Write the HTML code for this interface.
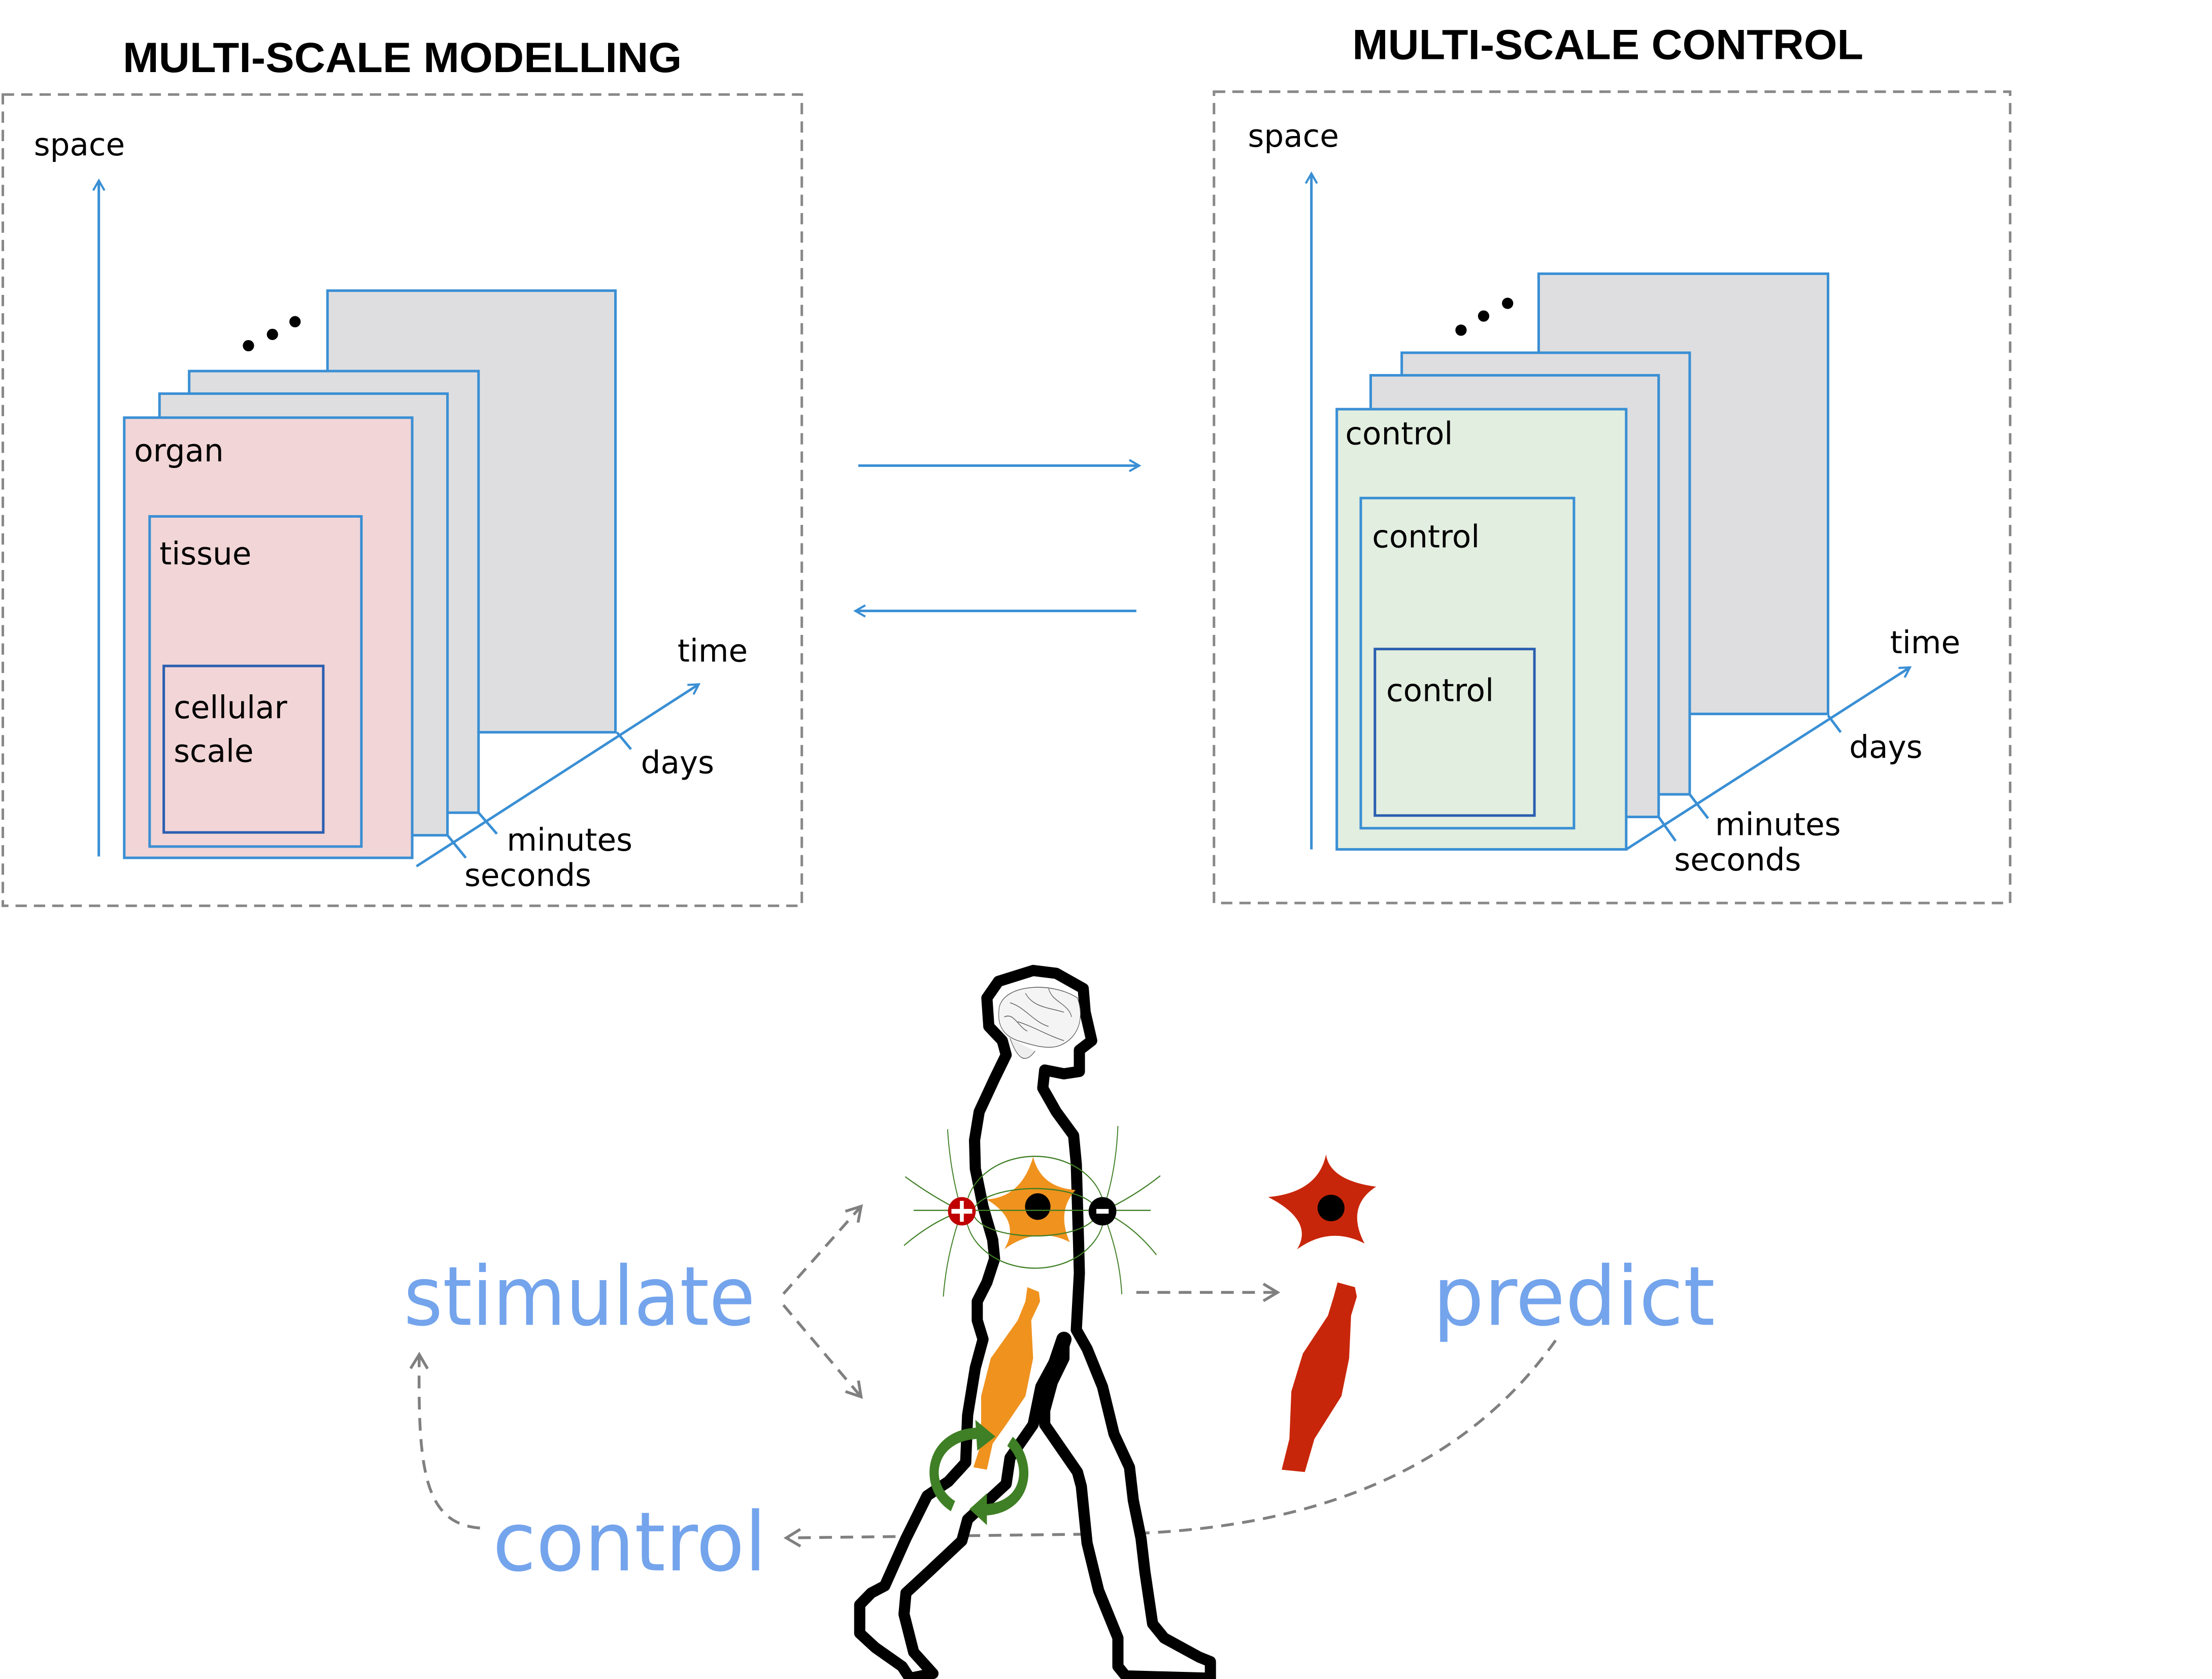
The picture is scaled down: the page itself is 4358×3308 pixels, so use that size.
<!DOCTYPE html>
<html><head><meta charset="utf-8"><style>
html,body{margin:0;padding:0;background:#fff;}
svg{display:block;}
.s{font-family:"DejaVu Sans","Liberation Sans",sans-serif;}
.t{font-family:"Liberation Sans",sans-serif;font-weight:bold;}
.b{font-family:"DejaVu Sans","Liberation Sans",sans-serif;fill:#74a4ec;}
</style></head><body>
<svg width="4358" height="3308" viewBox="0 0 1567 1190" preserveAspectRatio="none" xmlns="http://www.w3.org/2000/svg">
<defs>
<marker id="ab" markerWidth="10" markerHeight="10" refX="8" refY="5" orient="auto" markerUnits="userSpaceOnUse"><path d="M1,1 L8,5 L1,9" fill="none" stroke="#3a8fd4" stroke-width="1.5"/></marker>
<marker id="ag" markerWidth="14" markerHeight="14" refX="11" refY="7" orient="auto" markerUnits="userSpaceOnUse"><path d="M1,1 L11,7 L1,13" fill="none" stroke="#808080" stroke-width="2"/></marker>
</defs>
<rect width="1567" height="1190" fill="#fff"/>
<!-- LEFT PANEL -->
<text class="t" x="87" y="51" font-size="30" textLength="396" lengthAdjust="spacingAndGlyphs">MULTI-SCALE MODELLING</text>
<rect x="2" y="67" width="566" height="575" fill="none" stroke="#888" stroke-width="1.8" stroke-dasharray="8,5"/>
<line x1="70" y1="607" x2="70" y2="128" stroke="#3a8fd4" stroke-width="1.8" marker-end="url(#ab)"/>
<g stroke="#3a8fd4" stroke-width="1.8">
<rect x="232" y="206" width="204" height="313" fill="#dedee0"/>
<rect x="134" y="263" width="205" height="313" fill="#dedee0"/>
<rect x="113" y="279" width="204" height="313" fill="#dedee0"/>
<rect x="88" y="296" width="204" height="312" fill="#f2d5d6"/>
<rect x="106" y="366" width="150" height="234" fill="none"/>
<rect x="116" y="472" width="113" height="118" fill="none" stroke="#2a5fb0"/>
</g>
<circle cx="176" cy="245" r="4"/><circle cx="193" cy="237" r="4"/><circle cx="209" cy="228" r="4"/>
<line x1="295" y1="614" x2="495" y2="485" stroke="#3a8fd4" stroke-width="1.8" marker-end="url(#ab)"/>
<g stroke="#3a8fd4" stroke-width="1.8">
<line x1="437" y1="519" x2="447" y2="531"/><line x1="339" y1="576" x2="352" y2="591"/><line x1="317" y1="592" x2="330" y2="608"/>
</g>
<!-- RIGHT PANEL -->
<text class="t" x="958" y="42" font-size="30" textLength="362" lengthAdjust="spacingAndGlyphs">MULTI-SCALE CONTROL</text>
<rect x="860" y="65" width="564" height="575" fill="none" stroke="#888" stroke-width="1.8" stroke-dasharray="8,5"/>
<line x1="929" y1="602" x2="929" y2="123" stroke="#3a8fd4" stroke-width="1.8" marker-end="url(#ab)"/>
<g stroke="#3a8fd4" stroke-width="1.8">
<rect x="1090" y="194" width="205" height="312" fill="#dedee0"/>
<rect x="993" y="250" width="204" height="313" fill="#dedee0"/>
<rect x="971" y="266" width="204" height="313" fill="#dedee0"/>
<rect x="947" y="290" width="205" height="312" fill="#e2eedf"/>
<rect x="964" y="353" width="151" height="234" fill="none"/>
<rect x="974" y="460" width="113" height="118" fill="none" stroke="#2a5fb0"/>
</g>
<circle cx="1035" cy="234" r="4"/><circle cx="1051" cy="224" r="4"/><circle cx="1068" cy="215" r="4"/>
<line x1="1152" y1="602" x2="1353" y2="473" stroke="#3a8fd4" stroke-width="1.8" marker-end="url(#ab)"/>
<g stroke="#3a8fd4" stroke-width="1.8">
<line x1="1295" y1="507" x2="1304" y2="519"/><line x1="1197" y1="563" x2="1210" y2="580"/><line x1="1175" y1="579" x2="1187" y2="596"/>
</g>
<g class="s" font-size="22">
<text x="24" y="110">space</text>
<text x="95" y="327">organ</text>
<text x="113" y="400">tissue</text>
<text x="123" y="509">cellular</text>
<text x="123" y="540">scale</text>
<text x="480" y="469">time</text>
<text x="454" y="548">days</text>
<text x="359" y="603">minutes</text>
<text x="329" y="628">seconds</text>
<text x="884" y="104">space</text>
<text x="953" y="315">control</text>
<text x="972" y="388">control</text>
<text x="982" y="497">control</text>
<text x="1339" y="463">time</text>
<text x="1310" y="537">days</text>
<text x="1215" y="592">minutes</text>
<text x="1186" y="617">seconds</text>
</g>
<!-- middle arrows -->
<line x1="608" y1="330" x2="807" y2="330" stroke="#3a8fd4" stroke-width="1.8" marker-end="url(#ab)"/>
<line x1="805" y1="433" x2="606" y2="433" stroke="#3a8fd4" stroke-width="1.8" marker-end="url(#ab)"/>
<!-- bottom labels -->
<text class="b" x="286" y="939" font-size="58" textLength="249" lengthAdjust="spacingAndGlyphs">stimulate</text>
<text class="b" x="1015" y="939" font-size="58" textLength="200" lengthAdjust="spacingAndGlyphs">predict</text>
<text class="b" x="349" y="1113" font-size="58" textLength="194" lengthAdjust="spacingAndGlyphs">control</text>
<g fill="none" stroke="#808080" stroke-width="2" stroke-dasharray="9,6">
<line x1="555" y1="917" x2="610" y2="855" marker-end="url(#ag)"/>
<line x1="555" y1="925" x2="610" y2="990" marker-end="url(#ag)"/>
<line x1="805" y1="916" x2="905" y2="916" marker-end="url(#ag)"/>
<path d="M1102,950 Q1010,1080 800,1087 L557,1090" marker-end="url(#ag)"/>
<path d="M340,1083 C300,1080 296,1040 297,960" marker-end="url(#ag)"/>
</g>
<!-- figure -->
<g transform="translate(579,667) scale(0.273,0.336)">
<path d="M1350,720 L1395,730 L1400,750 L1385,790 L1380,880 L1360,960 L1290,1050 L1265,1120 L1205,1115 L1225,1050 L1230,950 L1260,870 L1325,790 L1340,750Z" fill="#c8260a"/>
<path d="M1320,450 Q1330,505 1450,518 Q1370,560 1420,638 Q1330,600 1245,650 Q1290,590 1170,540 Q1300,530 1320,450Z" fill="#c8260a"/>
<ellipse cx="1333" cy="563" rx="35" ry="28" fill="#000"/>
<path d="M445,180 L440,120 L470,85 L560,62 L620,68 L690,100 L695,150 L712,210 L680,230 L680,275 L640,280 L590,272 L585,310 L620,360 L665,410 L672,470 L678,640 L680,700 L672,820 L700,860 L740,940 L770,1040 L810,1110 L820,1180 L840,1260 L850,1330 L870,1440 L900,1470 L990,1510 L1020,1520 L1020,1555 L800,1550 L780,1530 L780,1470 L730,1370 L700,1270 L685,1150 L675,1120 L590,1020 L590,990 L610,930 L640,880 L640,840 L620,880 L580,940 L560,1020 L500,1090 L490,1145 L430,1190 L390,1220 L375,1265 L290,1330 L230,1375 L225,1420 L250,1500 L300,1545 L240,1555 L220,1530 L150,1490 L110,1460 L110,1400 L140,1375 L175,1360 L230,1260 L285,1170 L340,1140 L385,1100 L390,1000 L410,900 L430,840 L415,800 L415,760 L440,720 L460,670 L455,630 L430,560 L410,480 L408,420 L420,360 L460,290 L490,240 L480,210 Z" fill="#fff" stroke="#000" stroke-width="22" stroke-linejoin="round" vector-effect="non-scaling-stroke"/>
<line x1="640" y1="840" x2="590" y2="960" stroke="#000" stroke-width="30" stroke-linecap="round" vector-effect="non-scaling-stroke"/>
<g fill="none" stroke="#555" stroke-width="1.5" vector-effect="non-scaling-stroke">
<path d="M472,140 C485,90 610,85 675,120 C695,165 675,205 630,220 C600,230 560,220 520,210 C485,200 465,180 472,140Z" fill="#f4f4f4"/>
<path d="M500,205 C520,250 540,260 565,232" fill="#eee"/>
<path d="M500,130 C540,140 560,170 600,180 M540,110 C560,140 600,140 640,150 M520,170 C560,180 600,200 640,210 M600,100 C610,130 650,130 660,160 M485,160 C510,150 520,180 545,190"/>
</g>
<path d="M545,730 L575,740 L578,760 L555,800 L560,880 L540,960 L490,1020 L455,1060 L440,1115 L405,1110 L425,1060 L425,960 L450,880 L520,800 L540,760Z" fill="#f0921e"/>
<path d="M560,455 Q580,520 670,525 Q620,570 655,635 Q570,600 485,650 Q530,590 440,545 Q530,540 560,455Z" fill="#f0921e"/>
<ellipse cx="572" cy="560" rx="33" ry="28" fill="#000"/>
<g fill="none" stroke="#3f7f25" stroke-width="2.5" vector-effect="non-scaling-stroke">
<ellipse cx="565" cy="572" rx="180" ry="118"/>
<ellipse cx="565" cy="572" rx="160" ry="50"/>
<line x1="250" y1="568" x2="865" y2="568"/>
<path d="M375,570 Q300,540 228,497 M375,570 Q300,590 225,642 M375,570 Q345,490 338,397 M375,570 Q335,660 327,750"/>
<path d="M740,570 Q820,540 890,495 M740,570 Q820,600 880,662 M740,570 Q775,490 780,390 M740,570 Q785,660 790,745"/>
</g>
<ellipse cx="375" cy="570" rx="36" ry="30" fill="#c00000"/>
<rect x="348" y="565" width="54" height="10" fill="#fff"/><rect x="370" y="548" width="10" height="44" fill="#fff"/>
<ellipse cx="740" cy="570" rx="36" ry="30" fill="#000"/>
<rect x="724" y="565" width="32" height="10" fill="#fff"/>
<g fill="none" stroke="#3f7f25" stroke-width="24" vector-effect="non-scaling-stroke">
<path d="M352,1192 C270,1150 290,1040 420,1038"/>
<path d="M500,1055 C560,1100 550,1200 425,1200"/>
</g>
<path d="M410,1010 L462,1045 L415,1075Z" fill="#3f7f25"/>
<path d="M440,1165 L395,1198 L440,1232Z" fill="#3f7f25"/>
</g>
</svg>
</body></html>
